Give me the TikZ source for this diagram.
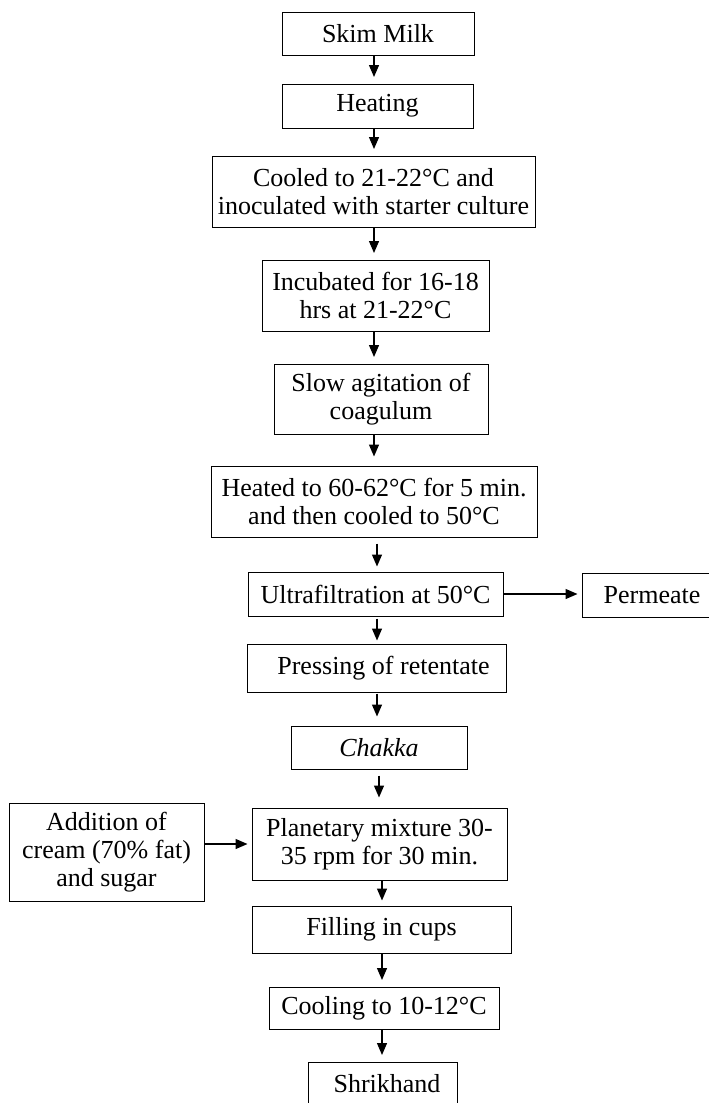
\documentclass[tikz,border=0pt]{standalone}
\usepackage{fontspec}
\setmainfont{Liberation Serif}
\usetikzlibrary{arrows.meta}
\begin{document}
\begin{tikzpicture}[x=1pt,y=-1pt,
  box/.style={draw, line width=1pt, inner sep=0pt, align=center,
    font=\fontsize{26}{28}\selectfont},
  arr/.style={line width=1.3pt, -{Triangle[length=12pt,width=10pt]}, shorten <=0.5pt, shorten >=6.5pt},
  harr/.style={line width=1.3pt, -{Triangle[length=12pt,width=10pt]}, shorten >=4pt}]
\clip (0,0) rectangle (709,1103);
\fill[white] (0,0) rectangle (709,1103);

\node[box, minimum width=192pt, minimum height=43pt] (skim) at (378,33.5) {Skim Milk};
\node[box, minimum width=191pt, minimum height=44pt] (heat) at (377.5,106) {Heating};
\node[box, minimum width=323pt, minimum height=71pt] (cool) at (373.5,191.5) {Cooled to 21-22°C and\\inoculated with starter culture};
\node[box, minimum width=227pt, minimum height=71pt] (incub) at (375.5,295.5) {Incubated for 16-18\\hrs at 21-22°C};
\node[box, minimum width=214pt, minimum height=70pt] (slow) at (381,399) {Slow agitation of\\coagulum};
\node[box, minimum width=326pt, minimum height=71pt] (heated) at (374,501.5) {Heated to 60-62°C for 5 min.\\and then cooled to 50°C};
\node[box, minimum width=255pt, minimum height=44pt] (ultra) at (375.5,594) {Ultrafiltration at 50°C};
\node[box, minimum width=140pt, minimum height=44pt] (perm) at (652,595) {Permeate};
\node[box, minimum width=259pt, minimum height=48pt] (press) at (376.5,668) {\hspace*{14pt}Pressing of retentate};
\node[box, minimum width=176pt, minimum height=43pt] (chakka) at (379,747.5) {\itshape Chakka};
\node[box, minimum width=255pt, minimum height=72pt] (plan) at (379.5,844) {Planetary mixture 30-\\35 rpm for 30 min.};
\node[box, minimum width=195pt, minimum height=98pt] (add) at (106.5,852) {Addition of\\cream (70\% fat)\\and sugar};
\node[box, minimum width=259pt, minimum height=47pt] (fill) at (381.5,929.5) {Filling in cups};
\node[box, minimum width=230pt, minimum height=42pt] (coolg) at (384,1008) {Cooling to 10-12°C};
\node[box, minimum width=149pt, minimum height=44pt] (shri) at (382.5,1084) {\hspace*{9pt}Shrikhand};

\coordinate (x1) at (374,0);
\coordinate (x2) at (377,0);
\coordinate (x3) at (379,0);
\coordinate (x4) at (382,0);
\draw[arr] (skim.south -| x1) -- (heat.north -| x1);
\draw[arr] (heat.south -| x1) -- (cool.north -| x1);
\draw[arr] (cool.south -| x1) -- (incub.north -| x1);
\draw[arr] (incub.south -| x1) -- (slow.north -| x1);
\draw[arr, shorten >=9pt] (slow.south -| x1) -- (heated.north -| x1);
\draw[arr, shorten <=6pt, shorten >=5pt] (heated.south -| x2) -- (ultra.north -| x2);
\draw[arr, shorten <=2pt, shorten >=3pt] (ultra.south -| x2) -- (press.north -| x2);
\draw[arr, shorten <=1pt, shorten >=9pt] (press.south -| x2) -- (chakka.north -| x2);
\draw[arr, shorten <=6pt, shorten >=10pt] (chakka.south -| x3) -- (plan.north -| x3);
\draw[arr, shorten >=5pt] (plan.south -| x4) -- (fill.north -| x4);
\draw[arr] (fill.south -| x4) -- (coolg.north -| x4);
\draw[arr] (coolg.south -| x4) -- (shri.north -| x4);
\draw[harr] (ultra.east) -- (perm.west |- ultra.east);
\draw[harr] (add.east |- plan.west) -- (plan.west);
\end{tikzpicture}
\end{document}
